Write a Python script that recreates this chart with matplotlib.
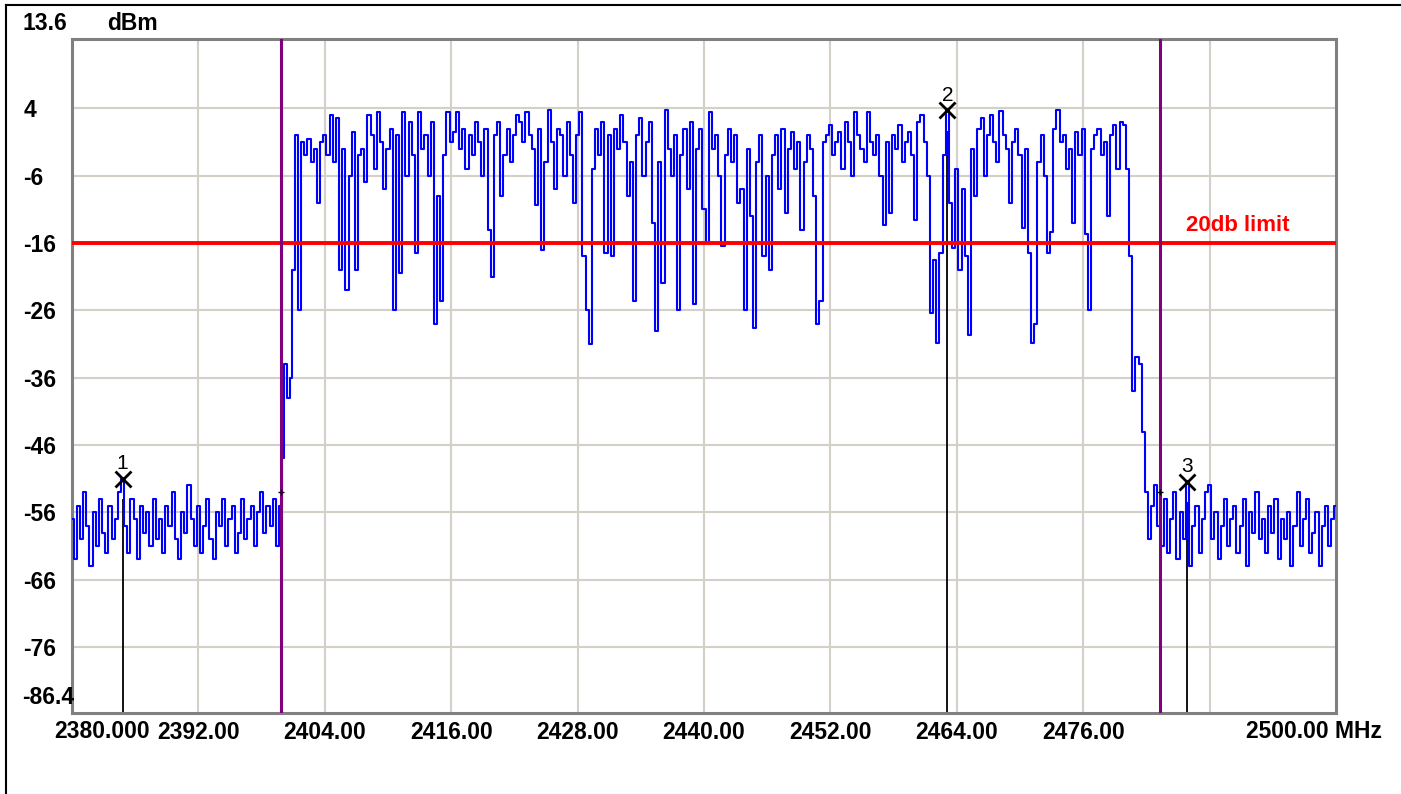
import numpy as np
import matplotlib.pyplot as plt
from matplotlib.lines import Line2D

plt.rcParams['font.family'] = ['Liberation Sans', 'DejaVu Sans']

# spectrum trace, dBm in segments
left_noise_span = (2380.0, 2399.8)
left_noise = [-57, -63, -55, -60, -53, -58, -64, -56, -61, -54, -59, -62, -55, -60, -57, -53, -51,
              -58, -62, -54, -57, -63, -55, -59, -56, -61, -54, -60, -57, -62, -55, -58, -53, -60,
              -63, -56, -59, -52, -57, -61, -55, -62, -58, -54, -60, -63, -56, -58, -54, -61, -57,
              -55, -62, -59, -54, -60, -57, -55, -61, -56, -53, -59, -55, -58, -54, -61, -55]

rise_span = (2400.0, 2401.3)
rise = [-48, -34, -39, -36, -20, 0]

band_span = (2401.6, 2479.6)
band = [-26, -1, -3, -0.5, -4, -2, -10, -1, 0, -3,
        3, -4, 2.5, -20, -2, -23, -6, 0.5, -20, -3,
        -2, -7, 3, 0, -5, 3.5, -1, -8, -2, 1,
        -26, 0, -20.5, 3.5, -6, 2, -3, -17.5, 3.5, -2,
        0, -6, 2, -28, -9, -24.6, -3, 3.5, -1, 0.5,
        3.5, -2, 1, -5, 0, -3, 2, -1, -6, 1,
        -14, -21, 0, 2, -9, -3, 1, -4, 0, 3,
        2, -1, 3.5, 0, -2, -10.4, 1, -17, -4, 3.8,
        -1, -8, 1, 0, -6, 2, -3, -10, 0, 3.5,
        -18, -26, -31, -5, 1, -3, 2, -17.5, 0, -18,
        1, -2, 3, -1, -9, -4, -24.6, 0, 2.5, -6,
        -1, 2, -13, -29, -4, -22, 3.7, -2, -6, 0,
        -26, -3, 1, -8, 2, -25, -2, 1, -11, -16,
        3.5, -2, 0, -6, -16.5, -3, 1, -4, 0, -10,
        -8, -26, -2, -12, -28.6, -4, 0, -18, -6, -20,
        -3, 0, -8, 1, -11.5, -2, 0.5, -5, -1, -14,
        -4, 0, -2, -9, -28, -24.6, -1, 0, 1.5, -3,
        -1, 0.5, -5, 2, -1, -6, 3.5, 0, -2, -4,
        3.5, -1, -3, 0, -6, -13.3, -1, -11.5, 0, -2,
        1.5, -4, -1, 0.5, -3, -12.6, 2, 3, -1, -6,
        -26.4, -18.5, -30.8, -17.5, -3, 3.7, -10, -16.7, -5, -20,
        -8, -18, -29.7, -2, -9, 1, 2.5, -6, 0, 3,
        -1, -4, 3.6, 0, -2, -10, -1, 1, -3, -13.8,
        -2, -17.5, -30.8, -28, -4, 0, -6, -17.5, -14.4, 1,
        3.7, -1, 0, -5, -2, -13, 0.5, -3, 1, -14.6,
        -26, -2, 0, 1, -3, -1, -12, 0, 1.5, -5,
        2]

fall_span = (2479.9, 2481.7)
fall = [1.5, -5, -18, -38, -33, -34, -44]

right_noise_span = (2482.0, 2500.0)
right_noise = [-53, -60, -55, -52, -58, -61, -54, -62, -57, -53, -63, -56, -60, -51.5, -64, -58,
               -55, -62, -57, -53, -52, -60, -56, -63, -58, -54, -61, -57, -55, -62, -58, -54,
               -64, -56, -59, -53, -60, -57, -62, -55, -59, -54, -63, -57, -60, -56, -64, -58,
               -53, -61, -57, -54, -62, -59, -56, -64, -58, -55, -61, -57, -55]

# markers and display lines
marker_ids = ['1', '2', '3']
marker_freq = [2384.8, 2463.1, 2485.9]
marker_level = [-51.0, 3.7, -51.5]
edge_freq = [2399.8, 2483.3]
edge_tick_level = [-53.0, -53.0]
limit_db = -16
limit_text = '20db limit'

y_ticks = [4, -6, -16, -26, -36, -46, -56, -66, -76]
x_ticks = [2392, 2404, 2416, 2428, 2440, 2452, 2464, 2476, 2488]
x_labels = ['2392.00', '2404.00', '2416.00', '2428.00', '2440.00', '2452.00', '2464.00', '2476.00', '']

segments = [(left_noise_span, left_noise), (rise_span, rise), (band_span, band),
            (fall_span, fall), (right_noise_span, right_noise)]
freq = np.concatenate([np.linspace(s[0], s[1], len(v)) for s, v in segments])
level = np.concatenate([v for s, v in segments])

W, H = 1401, 794
fig = plt.figure(figsize=(W / 100, H / 100), dpi=100)
ax = fig.add_axes([72 / W, 1 - 713 / H, (1336 - 72) / W, (713 - 39) / H])

ax.plot(freq, level, color='#0000ff', lw=1.5, drawstyle='steps-mid', zorder=3)
ax.axhline(limit_db, color='#ff0000', lw=2.8, zorder=4)
for f in edge_freq:
    ax.axvline(f, color='#800080', lw=2.2, zorder=5)
ax.plot(edge_freq, edge_tick_level, '+', color='k', ms=5, mew=1, zorder=6)

ax.vlines(marker_freq, -90, np.array(marker_level) - 3, color='k', lw=1.3, zorder=2)
ax.plot(marker_freq, marker_level, 'x', color='k', ms=11, mew=2, zorder=6)
for name, f, lv in zip(marker_ids, marker_freq, marker_level):
    ax.annotate(name, (f, lv), xytext=(0, 4), textcoords='offset points',
                ha='center', va='bottom', fontsize=15, zorder=7)

ax.annotate(limit_text, (2490.7, limit_db), xytext=(0, 5), textcoords='offset points',
            ha='center', va='bottom', color='#ff0000', fontsize=16, fontweight='bold')

ax.set_xlim(2380, 2500)
ax.set_ylim(-85.8, 14.3)
ax.set_xticks(x_ticks)
ax.set_xticklabels(x_labels, fontsize=16.5, fontweight='bold')
ax.set_yticks(y_ticks)
ax.set_yticklabels([str(v) for v in y_ticks], fontsize=16.5, fontweight='bold')
for lab in ax.get_yticklabels():
    lab.set_ha('left')
ax.tick_params(axis='y', length=0, pad=35)
ax.tick_params(axis='x', length=0, pad=6)
ax.grid(True, color='#d4d0c8', lw=1.5)
ax.set_axisbelow(True)
for sp in ax.spines.values():
    sp.set_color('#808080')
    sp.set_linewidth(2.2)

fig.text(23 / W, 1 - 23.5 / H, '13.6', ha='left', va='center', fontsize=16.5, fontweight='bold')
fig.text(107 / W, 1 - 23.5 / H, 'dBm', ha='left', va='center', fontsize=16.5, fontweight='bold')
fig.text(22 / W, 1 - 697 / H, '-86.4', ha='left', va='center', fontsize=16.5, fontweight='bold')
fig.text(102 / W, 1 - 732 / H, '2380.000', ha='center', va='center', fontsize=16.5, fontweight='bold')
fig.text(1314 / W, 1 - 732 / H, '2500.00 MHz', ha='center', va='center', fontsize=16.5, fontweight='bold')

# outer window frame
fig.add_artist(Line2D([6 / W, 6 / W], [0, 1 - 5 / H], transform=fig.transFigure, color='k', lw=1.5))
fig.add_artist(Line2D([6 / W, 1], [1 - 5 / H, 1 - 5 / H], transform=fig.transFigure, color='k', lw=1.5))

fig.savefig('out.png', dpi=100)
